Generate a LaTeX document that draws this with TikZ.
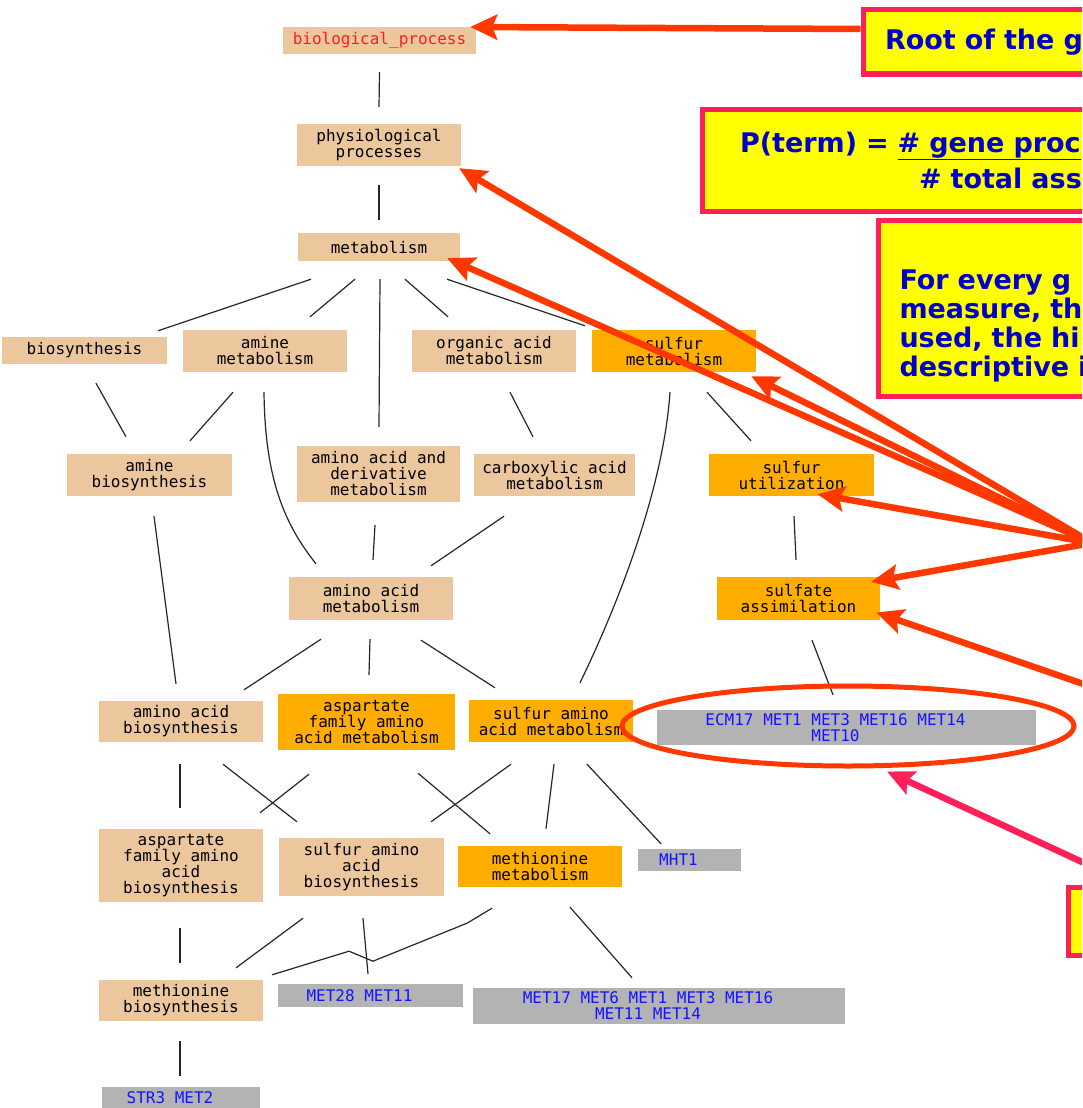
\documentclass[tikz,border=0pt]{standalone}
\usepackage{fontspec}
\setmonofont{DejaVu Sans Mono}
\newfontfamily\notefont{DejaVu Sans}
\usetikzlibrary{arrows.meta,shapes.geometric}

\definecolor{termtan}{RGB}{236,199,157}
\definecolor{termorange}{RGB}{255,174,0}
\definecolor{genegrey}{RGB}{179,179,179}
\definecolor{geneblue}{RGB}{20,20,255}
\definecolor{rootred}{RGB}{255,30,30}
\definecolor{notered}{RGB}{255,56,0}
\definecolor{notepink}{RGB}{255,32,90}
\definecolor{noteblue}{RGB}{0,0,200}
\definecolor{noteyellow}{RGB}{255,255,0}

\newcommand\genepad{\hspace*{22pt}}

\tikzset{
  dims/.style 2 args={minimum width=#1, minimum height=#2},
  term/.style={fill=termtan, inner sep=0pt, align=center, font=\ttfamily\fontsize{16}{16}\selectfont},
  hit/.style={term, fill=termorange},
  genes/.style={term, fill=genegrey, text=geneblue},
  isa/.style={line width=1.2pt, black!85},
  pointer/.style={line width=6.5pt, notered, -{Stealth[length=27pt,width=25pt,inset=5pt]}},
  notebox/.style={draw=notepink, line width=5pt, fill=noteyellow, text=noteblue, anchor=north west, align=left,
    font=\notefont\bfseries\fontsize{27}{29}\selectfont},
}

\begin{document}
\begin{tikzpicture}[x=1pt, y=-1pt]
	\useasboundingbox (0,0) rectangle (1082,1108);
	\clip (0,0) rectangle (1082,1108);
	% GO terms
	\node[term, dims={193}{27}, text=rootred] (bp) at (379.5,40.5) {biological\_process};
	\node[term, dims={164}{42}] (phys) at (379,145) {physiological\\processes};
	\node[term, dims={162}{28}] (metab) at (379,247) {metabolism};
	\node[term, dims={165}{27}] (biosyn) at (84.5,350.5) {biosynthesis};
	\node[term, dims={164}{42}] (aminemet) at (265,351) {amine\\metabolism};
	\node[term, dims={164}{42}] (orgacid) at (494,351) {organic acid\\metabolism};
	\node[hit, dims={164}{42}] (sulfmet) at (674,351) {sulfur\\metabolism};
	\node[term, dims={165}{42}] (aminebio) at (149.5,475) {amine\\biosynthesis};
	\node[term, dims={163}{56}] (aader) at (378.5,474) {amino acid and\\derivative\\metabolism};
	\node[term, dims={161}{42}] (carbox) at (554.5,475) {carboxylic acid\\metabolism};
	\node[hit, dims={165}{42}] (sulfutil) at (791.5,475) {sulfur\\utilization};
	\node[term, dims={164}{43}] (aamet) at (371,598.5) {amino acid\\metabolism};
	\node[hit, dims={163}{43}] (sulfate) at (798.5,598.5) {sulfate\\assimilation};
	\node[term, dims={164}{41}] (aabio) at (181,721.5) {amino acid\\biosynthesis};
	\node[hit, dims={177}{56}] (aspmet) at (366.5,722) {aspartate\\family amino\\acid metabolism};
	\node[hit, dims={164}{42}] (saamet) at (551,721) {sulfur amino\\acid metabolism};
	\node[genes, dims={379}{35}] (ecm) at (846.5,727.5) {ECM17 MET1 MET3 MET16 MET14\genepad\\MET10\genepad};
	\node[term, dims={164}{73}] (aspbio) at (181,865.5) {aspartate\\family amino\\acid\\biosynthesis};
	\node[term, dims={165}{58}] (saabio) at (361.5,867) {sulfur amino\\acid\\biosynthesis};
	\node[hit, dims={164}{41}] (metmet) at (540,866.5) {methionine\\metabolism};
	\node[genes, dims={103}{22}] (mht1) at (689.5,860) {MHT1\genepad};
	\node[term, dims={164}{41}] (metbio) at (181,1000.5) {methionine\\biosynthesis};
	\node[genes, dims={185}{23}] (met28) at (370.5,995.5) {MET28 MET11\genepad};
	\node[genes, dims={372}{36}] (met17) at (659,1006) {MET17 MET6 MET1 MET3 MET16\genepad\\MET11 MET14\genepad};
	\node[genes, dims={158}{22}] (str3) at (181,1098) {STR3 MET2\genepad};
	% is_a links
	\draw[isa] ([shift={(0,18)}]bp.south) -- ([shift={(0,-17)}]phys.north);
	\draw[isa] ([shift={(0,19)}]phys.south) -- ([shift={(0,-13)}]metab.north);
	\draw[isa] ([shift={(-68,18)}]metab.south) -- ([shift={(73.5,-6)}]biosyn.north);
	\draw[isa] ([shift={(-24,18)}]metab.south) -- ([shift={(45,-13)}]aminemet.north);
	\draw[isa] ([shift={(1,18)}]metab.south) -- ([shift={(0.5,-19)}]aader.north);
	\draw[isa] ([shift={(26,18)}]metab.south) -- ([shift={(-46,-13)}]orgacid.north);
	\draw[isa] ([shift={(68,18)}]metab.south) -- ([shift={(-89,-4)}]sulfmet.north);
	\draw[isa] ([shift={(11.5,19)}]biosyn.south) -- ([shift={(-23.5,-17)}]aminebio.north);
	\draw[isa] ([shift={(-32,20)}]aminemet.south) -- ([shift={(40.5,-13)}]aminebio.north);
	\draw[isa] ([shift={(-1,20)}]aminemet.south) .. controls +(1,88) and +(-31,-39) .. ([shift={(-55,-13)}]aamet.north);
	\draw[isa] ([shift={(-3.5,23)}]aader.south) -- ([shift={(2,-17)}]aamet.north);
	\draw[isa] ([shift={(-50.5,20)}]carbox.south) -- ([shift={(60,-11)}]aamet.north);
	\draw[isa] ([shift={(16,20)}]orgacid.south) -- ([shift={(-21.5,-17)}]carbox.north);
	\draw[isa] ([shift={(33,20)}]sulfmet.south) -- ([shift={(-40.5,-13)}]sulfutil.north);
	\draw[isa] ([shift={(-4,20)}]sulfmet.south) .. controls +(-6,88) and +(45,-93) .. ([shift={(29,-17)}]saamet.north);
	\draw[isa] ([shift={(2.5,20)}]sulfutil.south) -- ([shift={(-2.5,-17)}]sulfate.north);
	\draw[isa] ([shift={(13.5,20)}]sulfate.south) -- ([shift={(-13.5,-15)}]ecm.north);
	\draw[isa] ([shift={(4.5,20)}]aminebio.south) -- ([shift={(-5,-17)}]aabio.north);
	\draw[isa] ([shift={(-50,19)}]aamet.south) -- ([shift={(63,-11)}]aabio.north);
	\draw[isa] ([shift={(-1,19)}]aamet.south) -- ([shift={(2.5,-19)}]aspmet.north);
	\draw[isa] ([shift={(50,20)}]aamet.south) -- ([shift={(-56,-12)}]saamet.north);
	\draw[isa] ([shift={(-1,22)}]aabio.south) -- ([shift={(-1,-21)}]aspbio.north);
	\draw[isa] ([shift={(42,22)}]aabio.south) -- ([shift={(-64.5,-16)}]saabio.north);
	\draw[isa] ([shift={(-57.5,24)}]aspmet.south) -- ([shift={(79,-16)}]aspbio.north);
	\draw[isa] ([shift={(51.5,23)}]aspmet.south) -- ([shift={(-50,-12)}]metmet.north);
	\draw[isa] ([shift={(-40,22)}]saamet.south) -- ([shift={(69.5,-16)}]saabio.north);
	\draw[isa] ([shift={(3,22)}]saamet.south) -- ([shift={(6,-17)}]metmet.north);
	\draw[isa] ([shift={(36,22)}]saamet.south) -- ([shift={(-28.5,-5)}]mht1.north);
	\draw[isa] ([shift={(-1,26)}]aspbio.south) -- ([shift={(-1,-17)}]metbio.north);
	\draw[isa] ([shift={(-58.5,22)}]saabio.south) -- ([shift={(55,-12)}]metbio.north);
	\draw[isa] ([shift={(1.5,22)}]saabio.south) -- ([shift={(-2.5,-10)}]met28.north);
	\draw[isa] ([shift={(-48,21)}]metmet.south) -- ++(-25,15) -- ++(-94,38) -- ++(-24,-10) -- ([shift={(91,-5)}]metbio.north);
	\draw[isa] ([shift={(30,20)}]metmet.south) -- ([shift={(-27,-10)}]met17.north);
	\draw[isa] ([shift={(-1,20)}]metbio.south) -- ([shift={(-1,-11)}]str3.north);
	% notes
	\node[notebox, text width=400, inner xsep=22, minimum height=64] (rootnote) at (860.5,7.5) {Root of the g};
	\node[notebox, text width=400, inner xsep=38, minimum height=102] (pnote) at (699.5,106.5)
		{P(term) = \underline{\# gene proc}\\[7pt]\hspace*{179pt}\# total ass};
	\node[notebox, text width=400, inner xsep=21.5, inner ysep=15] (gennote) at (875.5,217.5)
		{\rule{0pt}{54pt}For every g\\measure, th\\used, the hi\\descriptive i};
	\node[notebox, text width=100, inner xsep=0, minimum height=68] (keynote) at (1065.5,884.5) {};
	\coordinate (fanout) at (1092,543);
	\coordinate (fanlow) at (1095,688);
	\coordinate (keyout) at (1095,868);
	\draw[pointer] ([shift={(0,-13)}]rootnote.west) -- ([shift={(-6,-13.5)}]bp.east);
	\draw[pointer] (fanout) -- ([shift={(-2,2)}]phys.south east);
	\draw[pointer] (fanout) -- ([shift={(-13,-3)}]metab.south east);
	\draw[pointer] (fanout) -- ([shift={(-5,4)}]sulfmet.south east);
	\draw[pointer] (fanout) -- ([shift={(26,-2)}]sulfutil.south);
	\draw[pointer] (fanout) -- ([shift={(-9,5)}]sulfate.north east);
	\draw[pointer] (fanlow) -- ([shift={(-4,14)}]sulfate.east);
	\node[ellipse, draw=notered, line width=5pt, dims={452}{80}] (ring) at (848,726) {};
	\draw[pointer, notepink] (keyout) -- ([shift={(39,3)}]ring.south);
\end{tikzpicture}
\end{document}
